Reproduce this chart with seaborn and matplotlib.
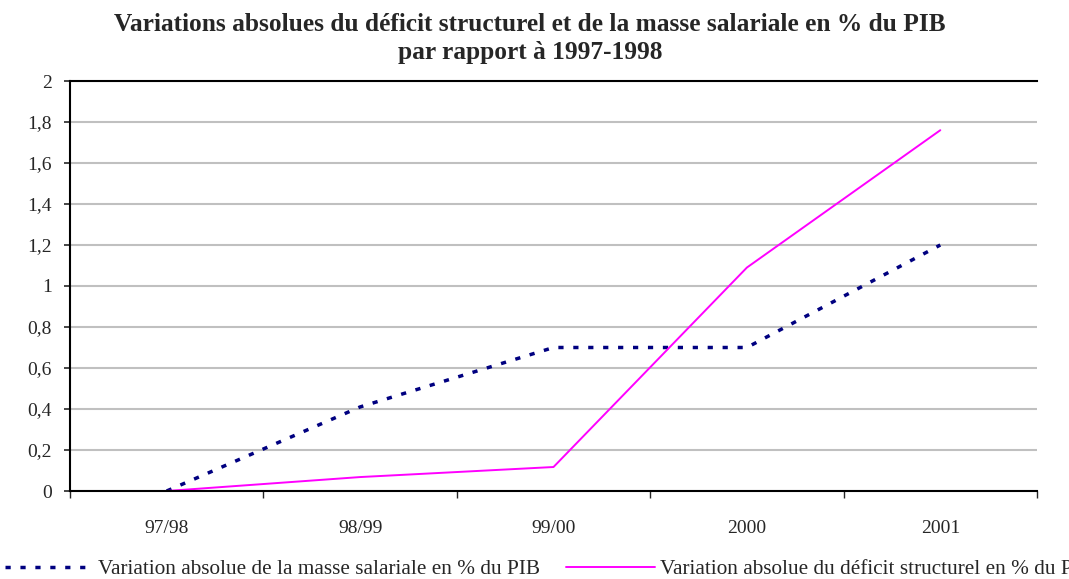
import numpy as np
import pandas as pd
import matplotlib.pyplot as plt
import seaborn as sns

# data
periodes = ['97/98', '98/99', '99/00', '2000', '2001']
masse_salariale = [0.0, 0.41, 0.70, 0.70, 1.20]
deficit_structurel = [0.0, 0.068, 0.117, 1.09, 1.76]

label_masse = 'Variation absolue de la masse salariale en % du PIB'
label_deficit = 'Variation absolue du déficit structurel en % du PIB'

sns.set_theme(style='white')
plt.rcParams['font.family'] = ['Liberation Serif', 'DejaVu Serif']

df = pd.DataFrame({'periode': periodes,
                   label_masse: masse_salariale,
                   label_deficit: deficit_structurel})

fig, ax = plt.subplots(figsize=(10.69, 5.79), dpi=100)
fig.subplots_adjust(left=70 / 1069, right=1037 / 1069, top=1 - 81 / 579, bottom=1 - 491 / 579)

sns.lineplot(data=df, x='periode', y=label_masse, ax=ax, color='#000080',
             linewidth=2.5, linestyle=(0, (1.5, 2.8)), label=label_masse)
sns.lineplot(data=df, x='periode', y=label_deficit, ax=ax, color='#FF00FF',
             linewidth=1.4, label=label_deficit)

ax.set_xlim(-0.5, 4.5)
ax.set_ylim(0, 2)
yt = np.arange(0, 2.01, 0.2).round(1)
ax.set_yticks(yt)
ax.set_yticklabels([f'{v:g}'.replace('.', ',') for v in yt])
ax.set_xticks(range(len(periodes)))
ax.set_xticklabels(periodes)
ax.set_xticks(np.arange(-0.5, 4.6, 1), minor=True)
ax.tick_params(axis='x', which='major', length=0, pad=21, labelsize=14)
ax.tick_params(axis='x', which='minor', length=5, width=1, direction='out', bottom=True)
ax.tick_params(axis='y', length=4, width=1.2, direction='out', left=True, labelsize=14, pad=9)

ax.yaxis.grid(True, color='#c0c0c0', linewidth=1.5)
ax.set_axisbelow(True)
for side in ['left', 'bottom', 'top']:
    ax.spines[side].set_color('black')
    ax.spines[side].set_linewidth(1.5)
ax.spines['right'].set_visible(False)
ax.set_xlabel('')
ax.set_ylabel('')

fig.text(530 / 1069, 1 - 13 / 579,
         'Variations absolues du déficit structurel et de la masse salariale en % du PIB\n'
         'par rapport à 1997-1998', ha='center', va='top', fontsize=18.3,
         fontweight='bold', linespacing=1.3)

handles, labels = ax.get_legend_handles_labels()
ax.get_legend().remove()
fig.legend(handles, labels, loc='center left', bbox_to_anchor=(5 / 1069, 10 / 579), ncol=2,
           frameon=False, fontsize=15.3, handlelength=4.2, handletextpad=0.2,
           columnspacing=1.2, borderpad=0, borderaxespad=0)

plt.savefig('out.png', dpi=100)
